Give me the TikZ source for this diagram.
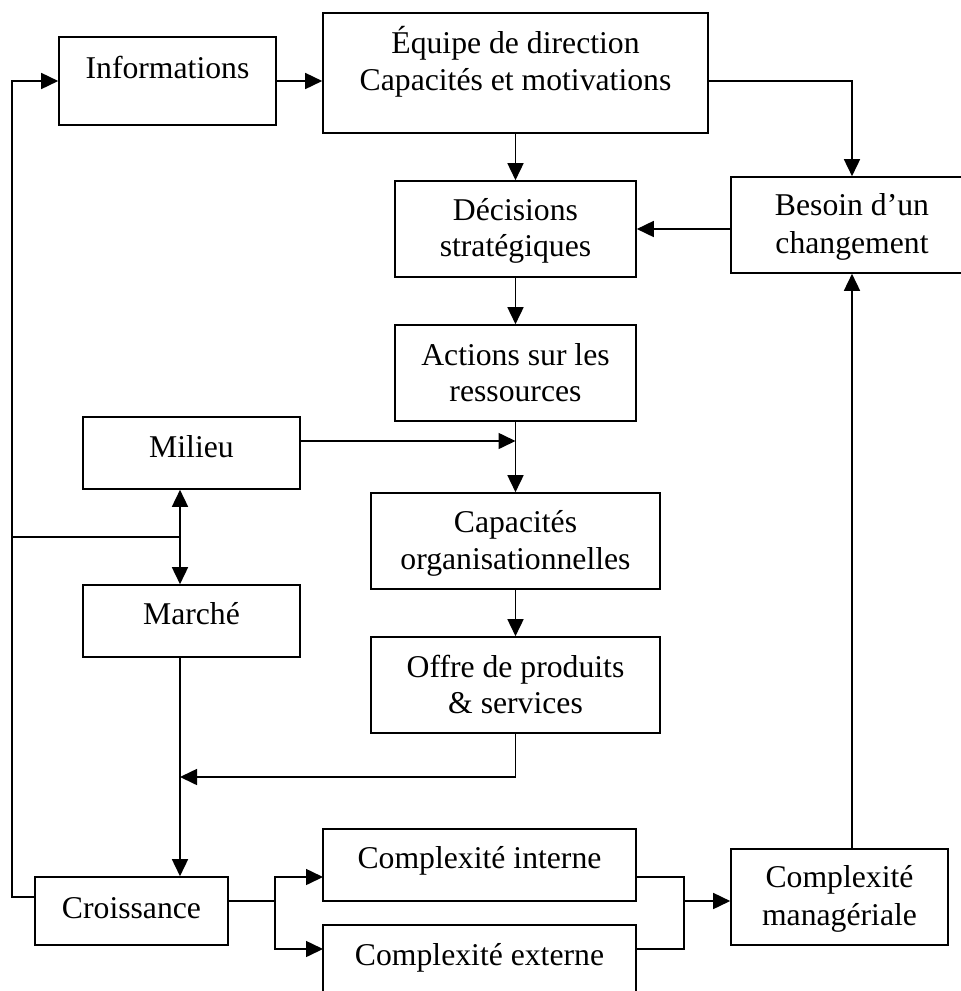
\documentclass[tikz,border=0pt]{standalone}
\usepackage{fontspec}
\setmainfont{Liberation Serif}
\usetikzlibrary{arrows.meta}
\begin{document}
\begin{tikzpicture}[x=1pt,y=-1pt,
  box/.style={draw, line width=1.6pt, inner sep=0pt},
  lbl/.style={anchor=base, inner sep=0pt, font=\fontsize{31.7}{38}\selectfont},
  wire/.style={line width=1.6pt},
  arr/.style={wire, -{Triangle[length=17pt,width=16pt]}},
  barr/.style={wire, {Triangle[length=17pt,width=16pt]}-{Triangle[length=17pt,width=16pt]}}]
\useasboundingbox (0,0) rectangle (961,991);
\clip (0,0) rectangle (961,991);

% boxes
\node[box, minimum width=217pt, minimum height=88pt]  (info)   at (167.5,81)  {};
\node[box, minimum width=385pt, minimum height=120pt] (equipe) at (515.5,73)  {};
\node[box, minimum width=241pt, minimum height=96pt]  (decis)  at (515.5,229) {};
\node[box, minimum width=242pt, minimum height=96pt]  (besoin) at (852,225)   {};
\node[box, minimum width=241pt, minimum height=96pt]  (action) at (515.5,373) {};
\node[box, minimum width=217pt, minimum height=72pt]  (milieu) at (191.5,453) {};
\node[box, minimum width=289pt, minimum height=96pt]  (capa)   at (515.5,541) {};
\node[box, minimum width=217pt, minimum height=72pt]  (marche) at (191.5,621) {};
\node[box, minimum width=289pt, minimum height=96pt]  (offre)  at (515.5,685) {};
\node[box, minimum width=193pt, minimum height=68pt]  (croiss) at (131.5,911) {};
\node[box, minimum width=313pt, minimum height=72pt]  (cint)   at (479.5,865) {};
\node[box, minimum width=313pt, minimum height=80pt]  (cext)   at (479.5,965) {};
\node[box, minimum width=217pt, minimum height=96pt]  (cman)   at (839.5,897) {};

% labels
\node[lbl] (tinfo)  at (167.5,78)  {Informations};
\node[lbl] (tequ1)  at (515.5,53)  {Équipe de direction};
\node[lbl] (tequ2)  at (515.5,90)  {Capacités et motivations};
\node[lbl] (tdec1)  at (515.5,220) {Décisions};
\node[lbl] (tdec2)  at (515.5,256) {stratégiques};
\node[lbl] (tbes1)  at (852,215)   {Besoin d’un};
\node[lbl] (tbes2)  at (852,253)   {changement};
\node[lbl] (tact1)  at (515.5,365) {Actions sur les};
\node[lbl] (tact2)  at (515.5,401) {ressources};
\node[lbl] (tmil)   at (191.5,457) {Milieu};
\node[lbl] (tcap1)  at (515.5,532) {Capacités};
\node[lbl] (tcap2)  at (515.5,569) {organisationnelles};
\node[lbl] (tmar)   at (191.5,624) {Marché};
\node[lbl] (toff1)  at (515.5,677) {Offre de produits};
\node[lbl] (toff2)  at (515.5,713) {\& services};
\node[lbl] (tcro)   at (131.5,918) {Croissance};
\node[lbl] (tcint)  at (479.5,868) {Complexité interne};
\node[lbl] (tcext)  at (479.5,965) {Complexité externe};
\node[lbl] (tcman1) at (839.5,887) {Complexité};
\node[lbl] (tcman2) at (839.5,925) {managériale};

% routing points
\coordinate (mx) at (180,0);
\coordinate (lt) at (12,81);
\coordinate (lm) at (12,537);
\coordinate (lb) at (12,897);
\coordinate (mj) at (515.5,441);
\coordinate (oj) at (515.5,777);
\coordinate (cj) at (275,901);
\coordinate (ci) at (323,877);
\coordinate (ce) at (323,949);
\coordinate (kj) at (684,901);

% connectors
\draw[arr] (info.east) -- (info.east -| equipe.west);
\draw[arr] (equipe.east |- info.east) -| (besoin.north);
\draw[arr] (equipe.south) -- (decis.north);
\draw[arr] (besoin.west |- decis.east) -- (decis.east);
\draw[arr] (decis.south) -- (action.north);
\draw[arr] (action.south) -- (capa.north);
\draw[arr] (milieu.east |- mj) -- (mj);
\draw[arr] (capa.south) -- (offre.north);
\draw[barr] (mx |- milieu.south) -- (mx |- marche.north);
\draw[wire] (lm) -- (mx |- lm);
\draw[arr] (croiss.west |- lb) -- (lb) -- (lt) -- (info.west);
\draw[arr] (mx |- marche.south) -- (mx |- croiss.north);
\draw[arr] (offre.south) -- (oj) -- (mx |- oj);
\draw[wire] (croiss.east |- cj) -- (cj);
\draw[arr] (cj) |- (ci);
\draw[arr] (cj) |- (ce);
\draw[wire] (cint.east |- ci) -| (kj |- ce) -- (cext.east |- ce);
\draw[arr] (kj) -- (kj -| cman.west);
\draw[arr] (besoin.south |- cman.north) -- (besoin.south);
\end{tikzpicture}
\end{document}
